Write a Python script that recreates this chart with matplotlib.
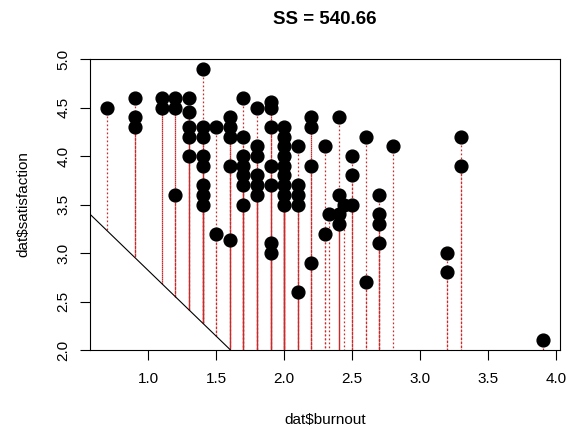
import matplotlib
matplotlib.use("Agg")
import matplotlib.pyplot as plt
import numpy as np

plt.rcParams['font.family'] = ['Liberation Sans', 'DejaVu Sans']

# burnout values (x) and satisfaction values (y), grouped by burnout column
burnout = (
    [0.7] +
    [0.9] * 3 +
    [1.1] * 2 +
    [1.2] * 3 +
    [1.3] * 5 +
    [1.4] * 8 +
    [1.5] * 2 +
    [1.6] * 5 +
    [1.7] * 7 +
    [1.8] * 6 +
    [1.9] * 7 +
    [2.0] * 9 +
    [2.1] * 5 +
    [2.2] * 4 +
    [2.3] * 2 +
    [2.33] +
    [2.4] * 4 +
    [2.44] +
    [2.5] * 3 +
    [2.6] * 2 +
    [2.7] * 4 +
    [2.8] +
    [3.2] * 2 +
    [3.3] * 2 +
    [3.9]
)
satisfaction = (
    [4.5] +
    [4.6, 4.4, 4.3] +
    [4.6, 4.5] +
    [4.6, 4.5, 3.6] +
    [4.6, 4.45, 4.3, 4.2, 4.0] +
    [4.9, 4.3, 4.2, 4.0, 3.9, 3.7, 3.6, 3.5] +
    [4.3, 3.2] +
    [4.4, 4.3, 4.2, 3.9, 3.13] +
    [4.6, 4.2, 4.0, 3.9, 3.8, 3.7, 3.5] +
    [4.5, 4.1, 4.0, 3.8, 3.7, 3.6] +
    [4.56, 4.5, 4.3, 3.9, 3.7, 3.1, 3.0] +
    [4.3, 4.2, 4.1, 4.0, 3.9, 3.8, 3.7, 3.6, 3.5] +
    [4.1, 3.7, 3.6, 3.5, 2.6] +
    [4.4, 4.3, 3.9, 2.9] +
    [4.1, 3.2] +
    [3.4] +
    [4.4, 3.6, 3.4, 3.3] +
    [3.5] +
    [4.0, 3.8, 3.5] +
    [4.2, 2.7] +
    [3.6, 3.4, 3.3, 3.1] +
    [4.1] +
    [3.0, 2.8] +
    [4.2, 3.9] +
    [2.1]
)

intercept = 4.175
slope = -1.355
title_text = "SS = 540.66"

x = np.array(burnout)
y = np.array(satisfaction)
fitted = intercept + slope * x

fig = plt.figure(figsize=(5.68, 4.29), dpi=100)
ax = fig.add_axes([90/568, 1 - 350/429, (560 - 90)/568, (350 - 59)/429])

xmin, xmax = x.min(), x.max()
pad = 0.04 * (xmax - xmin)
ax.set_xlim(xmin - pad, xmax + pad)
ax.set_ylim(2.0, 5.0)

# residual segments
for xi, yi, fi in zip(x, y, fitted):
    ax.plot([xi, xi], [yi, fi], color='#cc2a2a', lw=0.9,
            dashes=(1.4, 1.8), zorder=2, clip_on=True)

# fitted line
xl = np.array(ax.get_xlim())
ax.plot(xl, intercept + slope * xl, color='black', lw=0.8, zorder=3)

ax.plot(x, y, 'o', color='black', markersize=9.2, zorder=4, clip_on=False)

ax.set_xticks([1.0, 1.5, 2.0, 2.5, 3.0, 3.5, 4.0])
ax.set_xticklabels(['1.0', '1.5', '2.0', '2.5', '3.0', '3.5', '4.0'])
ax.set_yticks([2.0, 2.5, 3.0, 3.5, 4.0, 4.5, 5.0])
ax.set_yticklabels(['2.0', '2.5', '3.0', '3.5', '4.0', '4.5', '5.0'],
                   rotation=90, va='center')
ax.tick_params(axis='both', direction='out', length=7, width=0.8,
               labelsize=11, pad=7)
ax.tick_params(axis='x', pad=9)

for s in ax.spines.values():
    s.set_linewidth(0.8)

ax.set_xlabel('dat$burnout', fontsize=11, labelpad=19)
ax.set_ylabel('dat$satisfaction', fontsize=11, labelpad=19)
ax.set_title(title_text, fontsize=13.5, fontweight='bold', pad=25)

fig.savefig('out.png', dpi=100)
